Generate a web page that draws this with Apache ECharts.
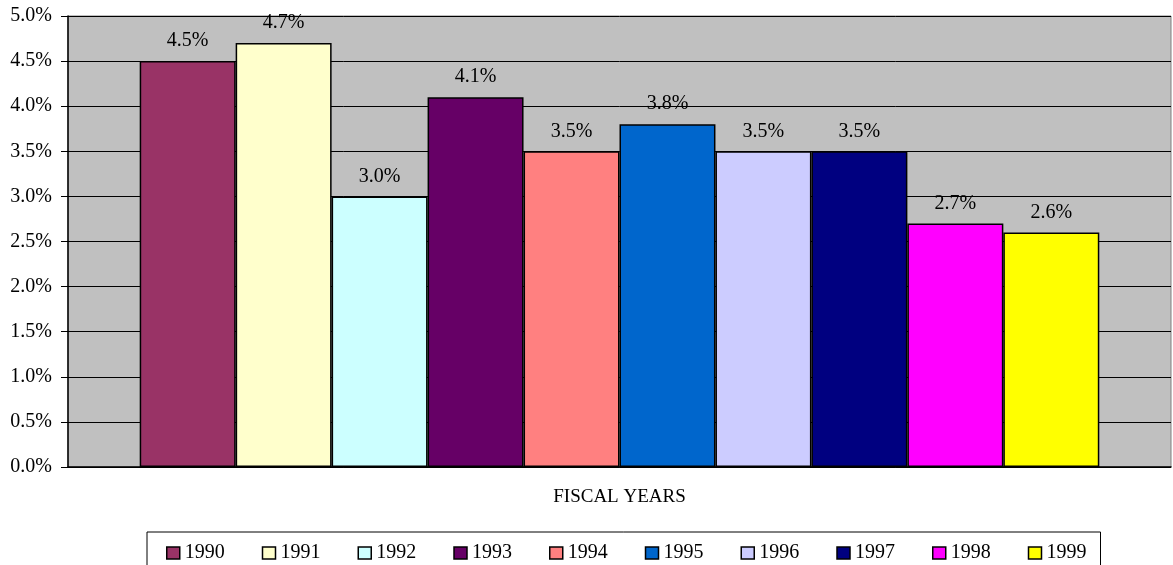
<!DOCTYPE html>
<html>
<head>
<meta charset="utf-8">
<script src="https://cdn.jsdelivr.net/npm/echarts@6/dist/echarts.min.js"></script>
<style>
  html, body { margin: 0; padding: 0; background: #fff; }
  #chart { width: 1173px; height: 565px; }
</style>
</head>
<body>
<div id="chart"></div>
<script>
// fiscal years, one bar each
const years = ['1990', '1991', '1992', '1993', '1994', '1995', '1996', '1997', '1998', '1999'];
const rates = [4.5, 4.7, 3.0, 4.1, 3.5, 3.8, 3.5, 3.5, 2.7, 2.6];
const colors = ['#993366', '#FFFFCC', '#CCFFFF', '#660066', '#FF8080',
                '#0066CC', '#CCCCFF', '#000080', '#FF00FF', '#FFFF00'];
const categories = ['FISCAL YEARS'];

const font = '"Liberation Serif", "Times New Roman", serif';

const series = years.map((y, i) => ({
    name: y,
    type: 'bar',
    data: [rates[i]],
    barGap: 0,
    barCategoryGap: '13%',
    itemStyle: { color: colors[i], borderColor: '#000', borderWidth: 1.5 },
    label: {
        show: true,
        position: 'top',
        distance: 10,
        color: '#000',
        fontFamily: font,
        fontSize: 20,
        formatter: p => p.value.toFixed(1) + '%'
    }
}));

const chart = echarts.init(document.getElementById('chart'));
chart.setOption({
    animation: false,
    color: colors,
    textStyle: { fontFamily: font },
    grid: {
        left: 68, right: 2, top: 16, bottom: 98,
        show: true,
        backgroundColor: '#C0C0C0',
        borderColor: '#808080',
        borderWidth: 1
    },
    xAxis: {
        type: 'category',
        data: categories,
        name: 'FISCAL YEARS',
        nameLocation: 'middle',
        nameGap: 21,
        nameTextStyle: { color: '#000', fontFamily: font, fontSize: 19 },
        axisLine: { lineStyle: { color: '#000', width: 1.5 } },
        axisTick: { show: false },
        axisLabel: { show: false }
    },
    yAxis: {
        type: 'value',
        min: 0, max: 5, interval: 0.5,
        axisLine: { show: true, lineStyle: { color: '#000', width: 1.5 } },
        axisTick: { show: true, length: 7, lineStyle: { color: '#000' } },
        axisLabel: {
            color: '#000', fontFamily: font, fontSize: 20, margin: 16,
            formatter: v => v.toFixed(1) + '%'
        },
        splitLine: { lineStyle: { color: '#000', width: 1 } }
    },
    legend: {
        left: 147,
        top: 532,
        padding: [11, 14, 20, 19],
        itemGap: 37,
        itemWidth: 13,
        itemHeight: 12,
        icon: 'rect',
        itemStyle: { borderColor: '#000', borderWidth: 1.5 },
        borderColor: '#000',
        borderWidth: 1,
        textStyle: { color: '#000', fontFamily: font, fontSize: 20 },
        data: years
    },
    series: series
});
</script>
</body>
</html>
